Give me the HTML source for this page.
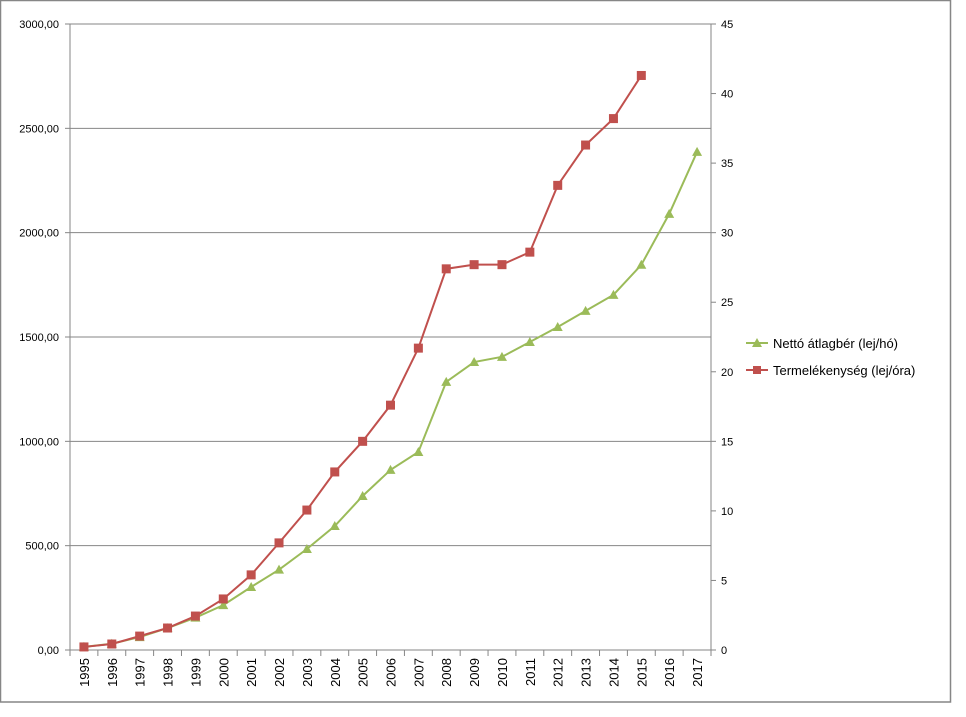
<!DOCTYPE html>
<html><head><meta charset="utf-8"><style>
body{margin:0;background:#fff;}
svg{display:block;font-family:"Liberation Sans",sans-serif;}
</style></head><body>
<svg id="chart" width="966" height="717">
<rect x="0.5" y="0.5" width="950" height="701.5" fill="#fff" stroke="#868686" stroke-width="1.5"/>
<g id="grid"></g>
<g id="axes"></g>
<g id="series"></g>
<g>
 <g>
  <line x1="746" y1="343" x2="768" y2="343" stroke="#9BBB59" stroke-width="2"/>
  <polygon points="757,338 762,347 752,347" fill="#9BBB59"/>
  <text x="773" y="348" font-size="13" fill="#000">Nettó átlagbér (lej/hó)</text>
 </g>
 <g>
  <line x1="746" y1="370" x2="768" y2="370" stroke="#C0504D" stroke-width="2"/>
  <rect x="753" y="366" width="8" height="8" fill="#C0504D"/>
  <text x="773" y="375" font-size="13" fill="#000">Termelékenység (lej/óra)</text>
 </g>
</g>
</svg>
<script>
const years=["1995","1996","1997","1998","1999","2000","2001","2002","2003","2004","2005","2006","2007","2008","2009","2010","2011","2012","2013","2014","2015","2016","2017"];
const wage=[15,30,62,105,155,215,302,385,484,594,738,863,949,1285,1380,1405,1476,1548,1625,1702,1846,2090,2387];
const productivity=[0.22,0.43,1.0,1.58,2.44,3.67,5.4,7.7,10.06,12.8,15.0,17.6,21.7,27.4,27.7,27.7,28.6,33.4,36.3,38.2,41.3];
const leftTicks=["0,00","500,00","1000,00","1500,00","2000,00","2500,00","3000,00"];
const rightTicks=["0","5","10","15","20","25","30","35","40","45"];
const NS="http://www.w3.org/2000/svg";
const X0=70,X1=711,Y0=650,Y1=24;
const band=(X1-X0)/years.length;
const xs=i=>X0+band*(i+0.5);
const yL=v=>Y0-(v/3000)*(Y0-Y1);
const yR=v=>Y0-(v/45)*(Y0-Y1);
function mk(t,a,p){const e=document.createElementNS(NS,t);for(const k in a)e.setAttribute(k,a[k]);p.appendChild(e);return e;}
const grid=document.getElementById('grid'),axes=document.getElementById('axes'),ser=document.getElementById('series');
leftTicks.forEach((t,i)=>{const v=i*500,y=yL(v);
 if(i>0){const l=mk('line',{x1:X0,x2:X1,y1:y,y2:y,stroke:'#868686','stroke-width':1},grid);
 
 }
 mk('line',{x1:X0-5,x2:X0,y1:y,y2:y,stroke:'#868686'},axes);
 const tx=mk('text',{x:X0-11,y:y+4,'font-size':11,'text-anchor':'end',fill:'#000'},axes);tx.textContent=t;
 
 
});
rightTicks.forEach((t,i)=>{const y=yR(i*5);
 mk('line',{x1:X1,x2:X1+5,y1:y,y2:y,stroke:'#868686'},axes);
 const tx=mk('text',{x:X1+10,y:y+4,'font-size':11,fill:'#000'},axes);tx.textContent=t;
 
 
});
mk('line',{x1:X0,x2:X0,y1:Y1,y2:Y0,stroke:'#868686'},axes);
mk('line',{x1:X1,x2:X1,y1:Y1,y2:Y0,stroke:'#868686'},axes);
mk('line',{x1:X0,x2:X1,y1:Y0,y2:Y0,stroke:'#868686'},axes);
for(let i=0;i<=years.length;i++){const x=X0+band*i;mk('line',{x1:x,x2:x,y1:Y0,y2:Y0+6,stroke:'#868686'},axes);}
years.forEach((yr,i)=>{const x=xs(i)+5;
 const tx=mk('text',{x:x,y:Y0+8,'font-size':13,'text-anchor':'end',fill:'#000',transform:`rotate(-90 ${x} ${Y0+8})`},axes);tx.textContent=yr;
 
 
});
const gl=mk('polyline',{points:wage.map((v,i)=>xs(i)+','+yL(v)).join(' '),fill:'none',stroke:'#9BBB59','stroke-width':2},ser);


const rl=mk('polyline',{points:productivity.map((v,i)=>xs(i)+','+yR(v)).join(' '),fill:'none',stroke:'#C0504D','stroke-width':2},ser);


wage.forEach((v,i)=>{const x=xs(i),y=yL(v);
 const p=mk('polygon',{points:`${x},${y-5} ${x+5},${y+4} ${x-5},${y+4}`,fill:'#9BBB59'},ser);
 
 
});
productivity.forEach((v,i)=>{const x=xs(i),y=yR(v);
 const r=mk('rect',{x:x-4.5,y:y-4.5,width:9,height:9,fill:'#C0504D'},ser);
 
 
});
</script>
</body></html>
